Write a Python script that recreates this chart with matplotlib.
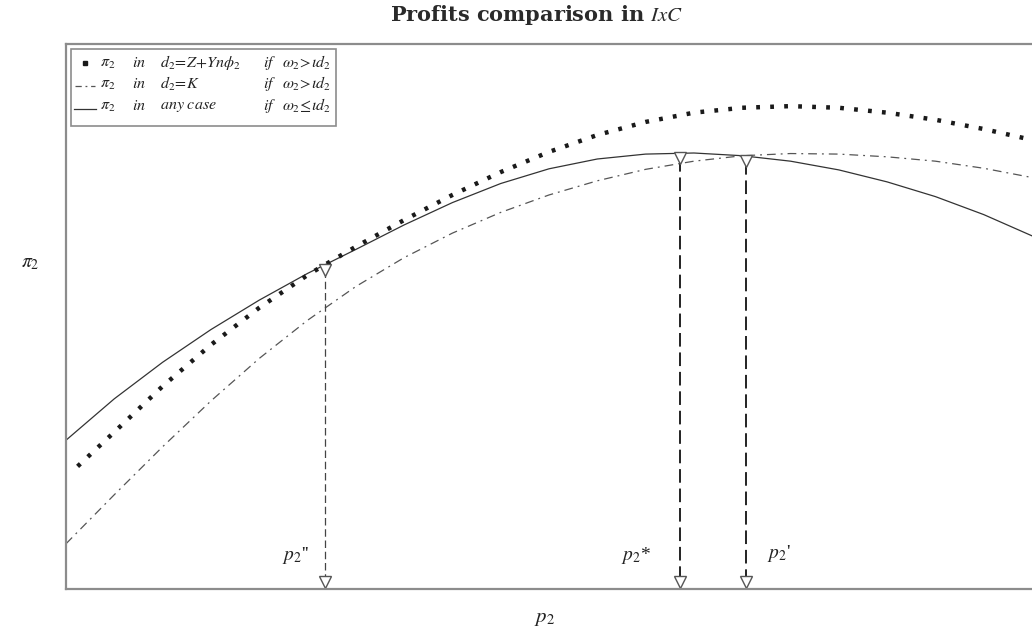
import matplotlib
matplotlib.use("Agg")
import matplotlib.pyplot as plt
from matplotlib.patches import Rectangle
from matplotlib.lines import Line2D

plt.rcParams['mathtext.fontset'] = 'stix'
plt.rcParams['font.family'] = ['Liberation Serif', 'DejaVu Serif']

# ---- data (unitless scale) ----
p_solid = [0, 0.5, 1, 1.5, 2, 2.5, 3, 3.5, 4, 4.5, 5, 5.5, 6, 6.5, 7, 7.5, 8, 8.5, 9, 9.5, 10]
pi_solid = [2.73, 3.49, 4.16, 4.76, 5.30, 5.79, 6.23, 6.68, 7.09, 7.44, 7.71, 7.89, 7.98, 8.00,
            7.95, 7.85, 7.69, 7.47, 7.20, 6.87, 6.48]

p_dot = [0.12, 0.5, 1, 1.5, 2, 2.5, 2.68, 3, 3.5, 4, 4.5, 5, 5.5, 6, 6.5, 7, 7.5, 8, 8.5, 9, 9.5, 9.95]
pi_dot = [2.25, 2.88, 3.72, 4.48, 5.16, 5.76, 5.95, 6.28, 6.77, 7.23, 7.65, 8.02, 8.33, 8.57,
          8.74, 8.83, 8.86, 8.83, 8.74, 8.61, 8.44, 8.26]

p_dash = [0, 0.5, 1, 1.5, 2, 2.5, 3, 3.5, 4, 4.5, 5, 5.5, 6, 6.5, 7, 7.5, 8, 8.5, 9, 9.5, 10]
pi_dash = [0.83, 1.73, 2.61, 3.45, 4.23, 4.93, 5.55, 6.08, 6.53, 6.91, 7.23, 7.49, 7.70, 7.85,
           7.95, 7.99, 7.98, 7.93, 7.85, 7.72, 7.55]

# special prices: p2'', p2*, p2'
p_marks = [2.68, 6.36, 7.04]
pi_marks = [5.95, 8.00, 7.95]
mark_labels = [r"$p_2$''", r"$p_2$*", r"$p_2$'"]

W, H = 1032, 632
fig = plt.figure(figsize=(W / 100, H / 100), dpi=100)
L, R, T, B = 66, 1032, 44, 589
ax = fig.add_axes([L / W, 1 - B / H, (R - L) / W, (B - T) / H])
ax.set_xlim(0, 10)
ax.set_ylim(0, 10)
ax.set_xticks([])
ax.set_yticks([])
for s in ['left', 'top', 'bottom']:
    ax.spines[s].set_color('#8c8c8c')
    ax.spines[s].set_linewidth(1.6)
ax.spines['right'].set_visible(False)

# curves
ax.plot(p_solid, pi_solid, color='#333333', lw=0.9)
ax.plot(p_dash, pi_dash, color='#555555', lw=0.9, linestyle=(0, (7, 4, 1.5, 4)))
ax.plot(p_dot, pi_dot, color='#1a1a1a', lw=3.2, linestyle=(0, (0.85, 2.3)),
        solid_capstyle='butt', dash_capstyle='butt')

# vertical markers
styles = [dict(lw=0.9, color='#444444', ls=(0, (6, 3))),
          dict(lw=1.4, color='#222222', ls=(0, (7, 3))),
          dict(lw=1.4, color='#222222', ls=(0, (7, 3)))]
bottom_tri = 0.13
for px, py, st in zip(p_marks, pi_marks, styles):
    ax.plot([px, px], [py - 0.1, bottom_tri], color=st['color'], lw=st['lw'], linestyle=st['ls'])
    ax.plot([px], [py - 0.09], marker='v', ms=8, mfc='white', mec='#555555', mew=1.0, ls='none')
    ax.plot([px], [bottom_tri], marker='v', ms=8, mfc='white', mec='#555555', mew=1.0, ls='none')

def fx(x):
    return x / W

def fy(y):
    return 1 - y / H

label_pos = [(296, 555, 'center'), (636, 555, 'center'), (779, 553, 'center')]
for (x, y, ha), lab in zip(label_pos, mark_labels):
    fig.text(fx(x), fy(y), lab, fontsize=14, ha=ha, va='center', color='#222222')

# axis labels and title
fig.text(fx(545), fy(619), r"$p_2$", fontsize=15, ha='center', va='center', color='#222222')
fig.text(fx(30), fy(263), r"$\pi_2$", fontsize=14, ha='center', va='center', color='#222222')
fig.text(fx(537), fy(15), r"Profits comparison in $IxC$", fontsize=15, ha='center',
         va='center', color='#2a2a2a', family='DejaVu Serif', fontweight='bold')

# legend box
lx0, ly0, lx1, ly1 = 71, 49, 336, 126
fig.patches.append(Rectangle((fx(lx0), fy(ly1)), (lx1 - lx0) / W, (ly1 - ly0) / H,
                             transform=fig.transFigure, fill=False, ec='#8c8c8c', lw=1.2))
rows = [63, 84, 106]
col_pi, col_in, col_d, col_if, col_w = 100, 132, 160, 263, 282
texts = [
    (r"$\pi_2$", r"$in$", r"$d_2\!=\!Z\!+\!Yn\phi_2$", r"$if$", r"$\omega_2\!>\!\imath d_2$"),
    (r"$\pi_2$", r"$in$", r"$d_2\!=\!K$", r"$if$", r"$\omega_2\!>\!\imath d_2$"),
    (r"$\pi_2$", r"$in$", r"$any\ case$", r"$if$", r"$\omega_2\!\leq\!\imath d_2$"),
]
for y, row in zip(rows, texts):
    for x, t in zip([col_pi, col_in, col_d, col_if, col_w], row):
        fig.text(fx(x), fy(y), t, fontsize=11.5, ha='left', va='center', color='#222222')
# legend symbols
fig.lines.append(Line2D([fx(85)], [fy(rows[0])], marker='s', ms=2.8, color='#1a1a1a',
                        transform=fig.transFigure))
fig.lines.append(Line2D([fx(75), fx(95)], [fy(rows[1] + 2)] * 2, color='#555555', lw=0.9,
                        linestyle=(0, (5, 3, 1.5, 3)), transform=fig.transFigure))
fig.lines.append(Line2D([fx(74), fx(96)], [fy(rows[2] + 3)] * 2, color='#333333', lw=0.9,
                        transform=fig.transFigure))

fig.savefig('out.png', dpi=100)
